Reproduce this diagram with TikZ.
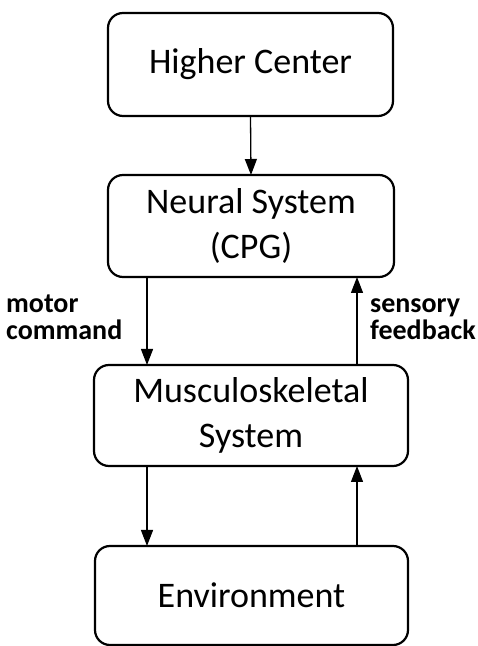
\documentclass[tikz,border=0pt]{standalone}
\usepackage{fontspec}
\setmainfont{Carlito}
\usetikzlibrary{arrows.meta}
\tikzset{
  block/.style={draw, line width=2.2pt, rounded corners=15pt, inner sep=0pt, outer sep=0pt,
    align=center, font=\fontsize{36}{45}\selectfont},
  tag/.style={anchor=base west, align=left, inner sep=0pt, font=\bfseries\fontsize{28}{27}\selectfont},
  link/.style={line width=1.3pt, -{Triangle[length=16pt,width=12pt]}}
}
\begin{document}
\begin{tikzpicture}[x=1pt,y=1pt]
  \useasboundingbox (0,0) rectangle (478,646);
  % the four stages of the loop
  \node[block, minimum width=285pt, minimum height=103pt] (higher) at (250.5,581.5) {Higher Center};
  \node[block, minimum width=286pt, minimum height=102pt] (neural) at (251,420) {Neural System\\(CPG)};
  \node[block, minimum width=314pt, minimum height=101pt] (musc) at (251,230.5) {Musculoskeletal\\System};
  \node[block, minimum width=313pt, minimum height=99pt] (env) at (251.5,50.5) {Environment};
  % side labels (anchored at the baseline of their last line)
  \node[tag] (motor) at (6,306) {motor\\command};
  \node[tag] (sense) at (370,306) {sensory\\feedback};
  % connectors
  \coordinate (down) at (147,0);
  \coordinate (up) at (357,0);
  \draw[link] (higher.south) -- (neural.north);
  \draw[link] (neural.south -| down) -- (musc.north -| down);
  \draw[link] (musc.north -| up) -- (neural.south -| up);
  \draw[link] (musc.south -| down) -- (env.north -| down);
  \draw[link] (env.north -| up) -- (musc.south -| up);
\end{tikzpicture}
\end{document}
